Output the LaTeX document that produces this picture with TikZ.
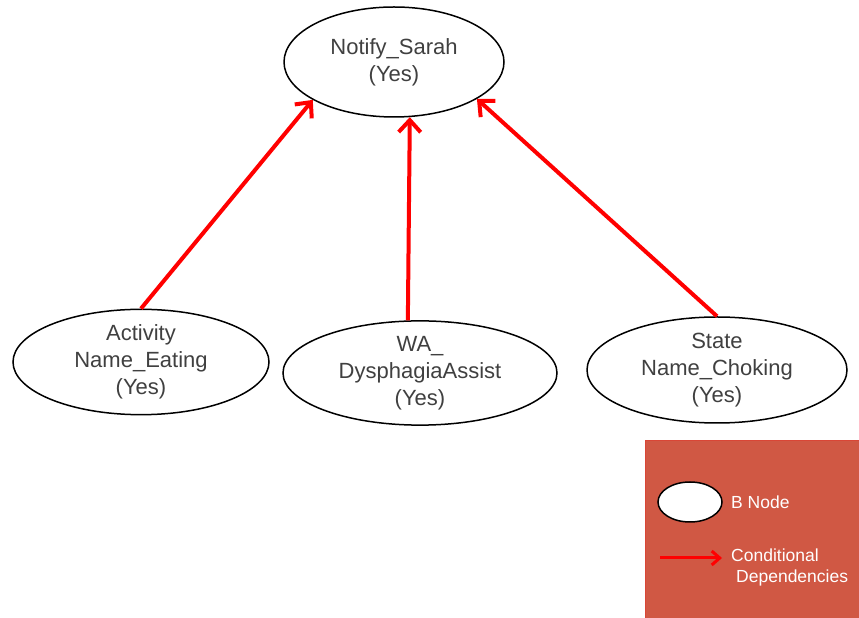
\documentclass[tikz,border=0pt]{standalone}
\usepackage{fontspec}
\setmainfont{Liberation Sans}
\usetikzlibrary{shapes.geometric,arrows.meta}
\definecolor{txtgray}{RGB}{64,64,64}
\definecolor{legendred}{RGB}{208,88,68}
\tikzset{
  bnode/.style={ellipse, draw=black, line width=1.5pt, fill=white, text=txtgray,
    align=center, inner sep=0pt, font=\fontsize{22}{27}\selectfont},
  cdep/.style={draw=red, line width=4pt, -{Straight Barb[length=12pt,width=22pt,line width=4pt]}},
  legtext/.style={text=white, font=\fontsize{17.5}{24}\selectfont, inner sep=0pt, anchor=west}
}
\begin{document}
\begin{tikzpicture}[x=1pt,y=1pt]
\useasboundingbox (0,0) rectangle (859,618);
% nodes (y = 618 - pixel y)
\node[bnode, minimum width=220pt, minimum height=110pt] (top) at (394,556) {Notify\_Sarah\\(Yes)};
\node[bnode, minimum width=256pt, minimum height=104pt] (left) at (141,256) {Activity\\Name\_Eating\\(Yes)};
\node[bnode, minimum width=274pt, minimum height=104pt] (mid) at (420,245) {WA\_\\DysphagiaAssist\\(Yes)};
\node[bnode, minimum width=260pt, minimum height=106pt] (right) at (717,248) {State\\Name\_Choking\\(Yes)};
% connectors
\draw[cdep] (left.north) -- (top.205);
\draw[cdep] (mid.103) -- (top.286);
\draw[cdep] (right.north) -- (top.336);
% legend
\node[fill=legendred, draw=legendred!80!red, line width=0.5pt, minimum width=214pt, minimum height=178pt, inner sep=0pt, anchor=north west] (legend) at (645,178) {};
\node[ellipse, draw=black, line width=1.5pt, fill=white, minimum width=64pt, minimum height=40pt] (legnode) at (690,116) {};
\node[legtext] (legnodetxt) at (731,116) {B Node};
\coordinate (legarrA) at (660,60);
\coordinate (legarrB) at (722,60);
\draw[draw=red, line width=3pt, -{Straight Barb[length=8pt,width=14pt,line width=3pt]}] (legarrA) -- (legarrB);
\node[legtext] (legcond) at (731,63) {Conditional};
\node[legtext] (legdep) at (736,40) {Dependencies};
\end{tikzpicture}
\end{document}
